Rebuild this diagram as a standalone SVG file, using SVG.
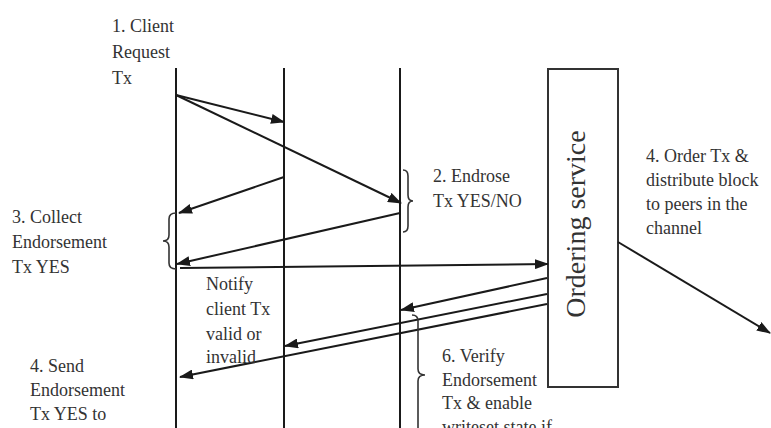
<svg xmlns="http://www.w3.org/2000/svg" width="771" height="428" viewBox="0 0 771 428">
<defs>
<marker id="ah" markerUnits="userSpaceOnUse" markerWidth="14" markerHeight="10" refX="13" refY="5" orient="auto">
<path d="M0,0 L14,5 L0,10 Z" fill="#1a1a1a"/>
</marker>
<style>
.ll{stroke:#1a1a1a;stroke-width:2;fill:none}
.ar{stroke:#1a1a1a;stroke-width:2;fill:none;marker-end:url(#ah)}
.br{stroke:#333;stroke-width:1.6;fill:none}
.t{font-family:"Liberation Serif","Times New Roman",serif;font-size:18px;fill:#333}
.os{font-family:"Liberation Serif","Times New Roman",serif;font-size:28px;fill:#333}
</style>
</defs>
<rect width="771" height="428" fill="#fff"/>
<g id="client">
<line class="ll" x1="176" y1="68" x2="176" y2="428"/>
<text class="t" x="112" y="32">1. Client</text>
<text class="t" x="112" y="58">Request</text>
<text class="t" x="112" y="84">Tx</text>
</g>
<g id="peer1">
<line class="ll" x1="284" y1="68" x2="284" y2="428"/>
</g>
<g id="peer2">
<line class="ll" x1="400" y1="68" x2="400" y2="428"/>
</g>
<g id="ordering">
<rect x="548" y="69" width="70" height="318" fill="#fff" stroke="#333" stroke-width="2"/>
<text class="os" transform="translate(585,224) rotate(-90)" text-anchor="middle">Ordering service</text>
</g>
<g id="connectors">
<line class="ar" x1="176" y1="95" x2="284" y2="122"/>
<line class="ar" x1="176" y1="95" x2="401" y2="203"/>
<line class="ar" x1="284" y1="177" x2="179" y2="213"/>
<line class="ar" x1="400" y1="213" x2="177" y2="264"/>
<line class="ar" x1="180" y1="268" x2="548" y2="264"/>
<line class="ar" x1="547" y1="278" x2="401" y2="310"/>
<line class="ar" x1="547" y1="294" x2="285" y2="346"/>
<line class="ar" x1="547" y1="304" x2="180" y2="377"/>
<line class="ar" x1="618" y1="242" x2="770" y2="333"/>
</g>
<g id="endorse">
<path class="br" d="M403,170 Q408,170 408,176 L408,195 Q408,201 413,201 Q408,201 408,207 L408,226 Q408,232 403,232"/>
<text class="t" x="433" y="182">2. Endrose</text>
<text class="t" x="433" y="207">Tx YES/NO</text>
</g>
<g id="collect">
<path class="br" d="M176,213 Q169,213 169,219 L169,235 Q169,241 163,241 Q169,241 169,247 L169,263 Q169,269 176,269"/>
<text class="t" x="12" y="223">3. Collect</text>
<text class="t" x="12" y="248">Endorsement</text>
<text class="t" x="12" y="273">Tx YES</text>
</g>
<g id="notify">
<text class="t" x="206" y="290">Notify</text>
<text class="t" x="206" y="315">client Tx</text>
<text class="t" x="206" y="340">valid or</text>
<text class="t" x="206" y="363">invalid</text>
</g>
<g id="send">
<text class="t" x="30" y="372">4. Send</text>
<text class="t" x="30" y="396">Endorsement</text>
<text class="t" x="30" y="420">Tx YES to</text>
</g>
<g id="verify">
<path class="br" d="M412,315 Q418,315 418,321 L418,369 Q418,375 425,375 Q418,375 418,381 L418,429 Q418,435 412,435"/>
<text class="t" x="442" y="362">6. Verify</text>
<text class="t" x="442" y="386">Endorsement</text>
<text class="t" x="442" y="409">Tx  &amp; enable</text>
<text class="t" x="442" y="433">writeset state if</text>
</g>
<g id="order">
<text class="t" x="646" y="162">4. Order Tx &amp;</text>
<text class="t" x="646" y="186">distribute block</text>
<text class="t" x="646" y="210">to peers in the</text>
<text class="t" x="646" y="234">channel</text>
</g>
</svg>
